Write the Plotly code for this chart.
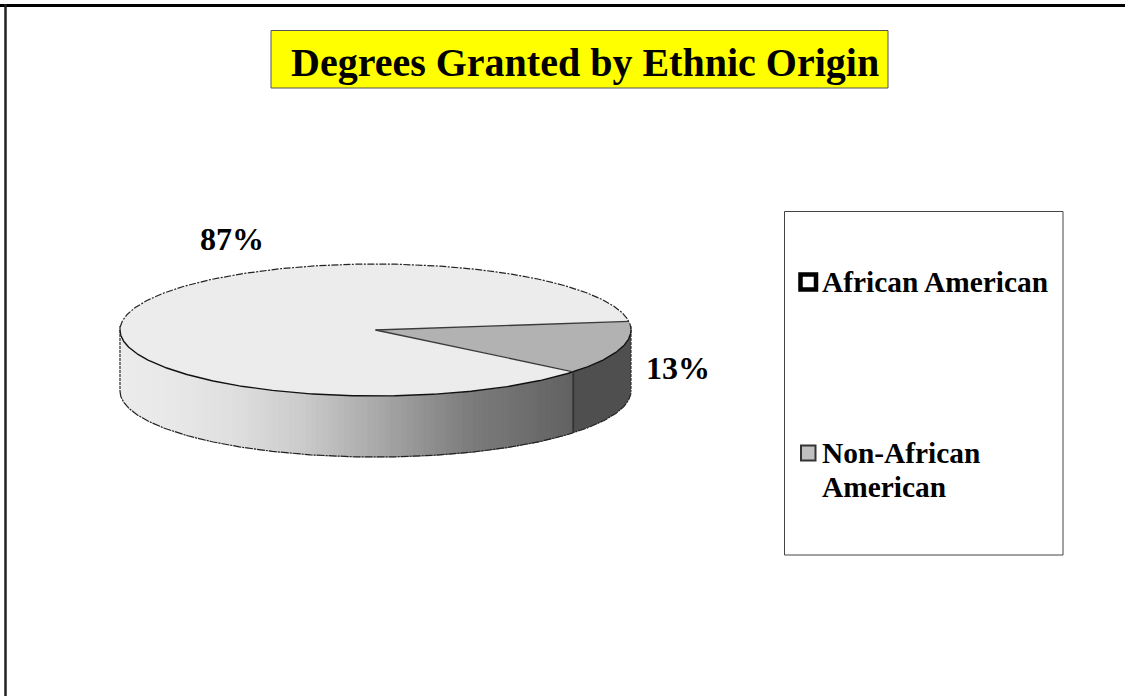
import numpy as np
import plotly.graph_objects as go

# Data
categories = ["African American", "Non-African American"]
legend_lines = [["African American"], ["Non-African", "American"]]
shares = [87, 13]
title_text = "Degrees Granted by Ethnic Origin"

# Style
W, H = 1125, 696
CX, CY, RX, RY, DEPTH = 375.5, 330, 255.5, 66, 61
START_DEG = 7.5
TOP_COLORS = ["#ececec", "#b2b2b2"]
SIDE_DARK = "#4f4f4f"
GRAD_X = [120, 170, 230, 300, 380, 470, 572]
GRAD_V = [236, 232, 224, 204, 168, 124, 98]
SERIF = "Liberation Serif"


def ell(t, dy=0.0):
    return CX + RX * np.cos(t), CY - RY * np.sin(t) + dy


def wedge(a0, a1, n=200):
    t = np.linspace(a0, a1, n)
    x, y = ell(t)
    return np.r_[CX, x, CX], np.r_[CY, y, CY]


def deg(v):
    return np.deg2rad(v)


fig = go.Figure()

# Slice angles follow from the shares
sweep_small = shares[1] / sum(shares) * 360
a_start = START_DEG
a_end = START_DEG - sweep_small

# Side wall: strips across the front part, shaded by x
edges = np.linspace(-180, a_end, 111)
for a, b in zip(edges[:-1], edges[1:]):
    ts = np.linspace(deg(a), deg(b), 3)
    xt, yt = ell(ts)
    xb, yb = ell(ts[::-1], DEPTH)
    v = int(round(np.interp(xt.mean(), GRAD_X, GRAD_V)))
    col = f"rgb({v},{v},{v})"
    fig.add_trace(go.Scatter(x=np.r_[xt, xb, xt[0]], y=np.r_[yt, yb, yt[0]], mode="lines",
                             fill="toself", fillcolor=col, line=dict(color=col, width=1),
                             hoverinfo="skip", showlegend=False))
# Side wall of the small slice: one solid dark face
ts = np.linspace(deg(a_end), deg(0), 60)
xt, yt = ell(ts)
xb, yb = ell(ts[::-1], DEPTH)
fig.add_trace(go.Scatter(x=np.r_[xt, xb, xt[0]], y=np.r_[yt, yb, yt[0]], mode="lines",
                         fill="toself", fillcolor=SIDE_DARK, line=dict(color=SIDE_DARK, width=0),
                         hoverinfo="skip", showlegend=False))

# Top faces
x0, y0 = wedge(deg(a_start), deg(a_start + 360 - sweep_small))
x1, y1 = wedge(deg(a_end), deg(a_start))
for (x, y), c, name in zip([(x0, y0), (x1, y1)], TOP_COLORS, categories):
    fig.add_trace(go.Scatter(x=x, y=y, mode="lines", fill="toself", fillcolor=c,
                             line=dict(color=c, width=0), name=name, showlegend=False,
                             hoverinfo="skip"))

# Outlines
def outline(x, y, width=1.0, color="#111111", dash="solid"):
    fig.add_trace(go.Scatter(x=x, y=y, mode="lines", line=dict(color=color, width=width, dash=dash),
                             hoverinfo="skip", showlegend=False))

tb = np.linspace(deg(0), deg(180), 300)
outline(*ell(tb), 1.2, "#222222", "7px,1.5px,2px,1.5px")
tf = np.linspace(deg(-180), deg(0), 300)
outline(*ell(tf), 1.4, "#111111")
outline(*ell(tf, DEPTH), 1.2, "#222222", "8px,1px,2px,1px")
for a in [a_start, a_end]:
    ex, ey = ell(deg(a))
    outline([CX, ex], [CY, ey], 1.3, "#3a3a3a")
ex, ey = ell(deg(a_end))
outline([ex, ex], [ey, ey + DEPTH], 1.8, "#333333")
for a in [-180, 0]:
    sx, sy = ell(deg(a))
    outline([sx, sx], [sy - 4, sy + DEPTH], 1.2, "#333333", "3px,1px")

# Frame, title box, legend box, legend keys
shapes = [
    dict(type="line", x0=0, x1=W, y0=5.5, y1=5.5, line=dict(color="#000", width=3)),
    dict(type="line", x0=5.5, x1=5.5, y0=4, y1=H, line=dict(color="#222", width=2.5)),
    dict(type="rect", x0=271, x1=888, y0=30.5, y1=88, fillcolor="#ffff00", line=dict(color="#555", width=1)),
    dict(type="rect", x0=784.5, x1=1063, y0=211.5, y1=555, fillcolor="#fff", line=dict(color="#444", width=1)),
    dict(type="rect", x0=800.5, x1=816, y0=274.5, y1=289.5, fillcolor="#fff", line=dict(color="#000", width=4.5)),
    dict(type="rect", x0=801, x1=815.5, y0=445.5, y1=460.5, fillcolor="#c0c0c0", line=dict(color="#333", width=2)),
]

ann = [
    dict(x=584.5, y=62, text=f"<b>{title_text}</b>", font=dict(size=40, color="#000", family=SERIF), xanchor="center"),
    dict(x=232, y=238.5, text=f"<b>{shares[0]}%</b>", font=dict(size=32, color="#000", family=SERIF), xanchor="center"),
    dict(x=677.5, y=367.5, text=f"<b>{shares[1]}%</b>", font=dict(size=32, color="#000", family=SERIF), xanchor="center"),
]
for lines, ys in zip(legend_lines, [[281.5], [452.5, 486.5]]):
    for line, yy in zip(lines, ys):
        ann.append(dict(x=820.5, y=yy, text=f"<b>{line}</b>", font=dict(size=29.4, color="#000", family=SERIF), xanchor="left"))
for a in ann:
    a.update(xref="x", yref="y", showarrow=False, yanchor="middle", borderpad=0)

fig.update_layout(
    width=W, height=H, margin=dict(l=0, r=0, t=0, b=0),
    paper_bgcolor="#fff", plot_bgcolor="#fff", showlegend=False,
    xaxis=dict(range=[0, W], visible=False, fixedrange=True),
    yaxis=dict(range=[H, 0], visible=False, fixedrange=True),
    shapes=shapes, annotations=ann,
)
fig.write_html("out.html", config=dict(displayModeBar=False),
               post_script="document.body.style.margin='0';document.body.style.overflow='hidden';")
